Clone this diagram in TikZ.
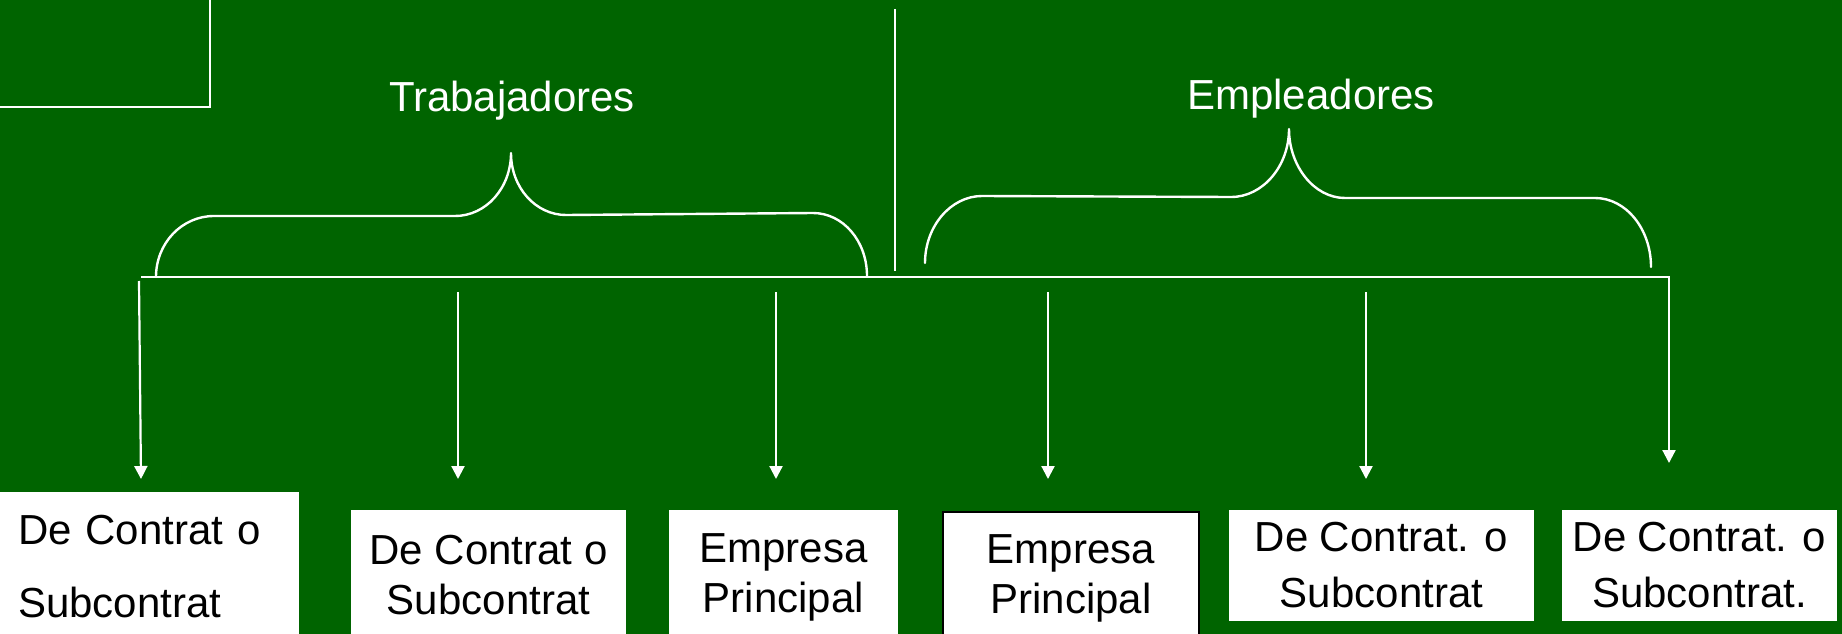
\documentclass[tikz,border=0pt]{standalone}
\usepackage{fontspec}
\setmainfont{Liberation Sans}
\usetikzlibrary{arrows.meta}
\definecolor{bg}{RGB}{0,100,0}
\begin{document}
\begin{tikzpicture}[x=1pt,y=-1pt,
  wire/.style={white, line width=2.2pt},
  arr/.style={wire, -{Triangle[width=13pt,length=13pt]}},
  bracepath/.style={white, line width=2.4pt, line join=round, line cap=round},
  box/.style={fill=white, text=black, inner sep=0pt, align=center, font=\fontsize{42}{50}\selectfont},
  head/.style={text=white, font=\fontsize{42}{50}\selectfont, anchor=base, inner sep=0pt}]
\fill[bg] (0,0) rectangle (1842,634);
\useasboundingbox (0,0) rectangle (1842,634);
\begin{scope}
\clip (0,0) rectangle (1842,634);

% top-left frame (cropped)
\draw[wire] (-5,107) -- (210,107) -- (210,-5);

% central divider
\coordinate (divtop) at (895,9);
\coordinate (divbot) at (895,271);
\draw[wire] (divtop) -- (divbot);

% headings
\node[head] (trab) at (512,111) {Trabajadores};
\node[head] (empl) at (1311,110) {Empleadores};

% braces
\draw[bracepath] (156,277) .. controls (156,243) and (182,216) .. (214,216)
  -- (455,216) .. controls (486,216) and (511,188) .. (511,153)
  .. controls (511,188) and (536,215) .. (566,215)
  -- (813,213) .. controls (843,213) and (867,241) .. (867,276);
\draw[bracepath] (925,263) .. controls (925,226) and (951,196) .. (982,196)
  -- (1231,197) .. controls (1263,197) and (1289,166) .. (1289,129)
  .. controls (1289,166) and (1314,198) .. (1345,198)
  -- (1595,198) .. controls (1626,198) and (1651,229) .. (1651,267);

% bar and arrows
\coordinate (barL) at (141,277);
\coordinate (barR) at (1669,277);
\coordinate (t6) at (1669,463);
\draw[wire] (barL) -- (barR);
\draw[arr, line join=miter] (barL) -- (barR) -- (t6);

\coordinate (s1) at (139,281);  \coordinate (t1) at (141,479);
\coordinate (s2) at (458,292);  \coordinate (t2) at (458,479);
\coordinate (s3) at (776,292);  \coordinate (t3) at (776,479);
\coordinate (s4) at (1048,292); \coordinate (t4) at (1048,479);
\coordinate (s5) at (1366,292); \coordinate (t5) at (1366,479);
\draw[arr] (s1) -- (t1);
\draw[arr] (s2) -- (t2);
\draw[arr] (s3) -- (t3);
\draw[arr] (s4) -- (t4);
\draw[arr] (s5) -- (t5);

% boxes
\node[box, minimum width=299pt, minimum height=149pt, text width=263pt, align=left,
  font=\fontsize{42}{73}\selectfont] (b1) at (149.5,566.5) {De Contrat o\\Subcontrat};
\node[box, minimum width=275pt, minimum height=130pt] (b2) at (488.5,575) {De Contrat o\\Subcontrat};
\node[box, minimum width=229pt, minimum height=135pt] (b3) at (783.5,577.5) {Empresa\\Principal};
\node[box, draw=black, line width=2.5pt, minimum width=256pt, minimum height=132pt] (b4) at (1071,578) {Empresa\\Principal};
\node[box, minimum width=305pt, minimum height=111pt, font=\fontsize{42}{56}\selectfont] (b5) at (1381.5,565.5) {De Contrat. o\\Subcontrat};
\node[box, minimum width=275pt, minimum height=111pt, font=\fontsize{42}{56}\selectfont] (b6) at (1699.5,565.5) {De Contrat. o\\Subcontrat.};
\end{scope}
\end{tikzpicture}
\end{document}
